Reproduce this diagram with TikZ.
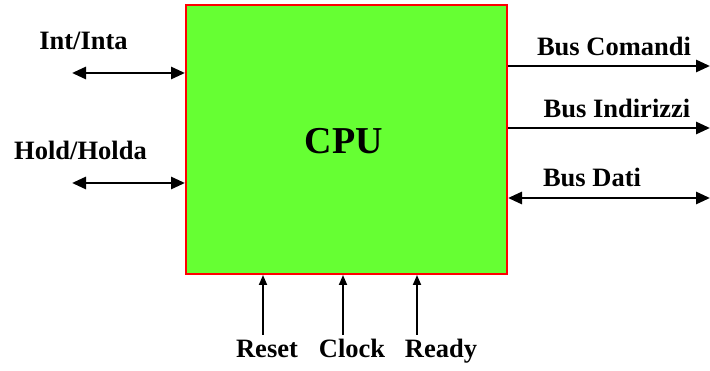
\documentclass[tikz,border=0pt]{standalone}
\usepackage{fontspec}
\setmainfont{Liberation Serif}
\usetikzlibrary{arrows.meta}
\definecolor{cpugreen}{HTML}{66FF33}
\tikzset{
  lbl/.style={font=\fontsize{26.5}{30}\selectfont\bfseries, anchor=base, inner sep=0pt},
  hsig/.style={line width=2.8pt, arrows={-Triangle[length=14pt,width=12pt]}},
  hbi/.style={line width=2.8pt, arrows={Triangle[length=14pt,width=12pt]-Triangle[length=14pt,width=12pt]}},
  vsig/.style={line width=1.8pt, arrows={-Triangle[length=10pt,width=8pt]}},
}
\begin{document}
\begin{tikzpicture}[x=1pt,y=-1pt]
\useasboundingbox (0,0) rectangle (710,371);
\node[draw=red, line width=2pt, fill=cpugreen, minimum width=321pt, minimum height=269pt, inner sep=0pt, anchor=north west] (cpu) at (185,4) {};
\node[font=\fontsize{38}{42}\selectfont\bfseries, anchor=base] (cputxt) at (344,154) {CPU};
% left
\node[lbl] (inta) at (83.5,50) {Int/Inta};
\node[lbl] (holda) at (80.5,160) {Hold/Holda};
\coordinate (a1) at (72,73);
\coordinate (a2) at (72,183);
\draw[hbi] (a1) -- (a1 -| cpu.west);
\draw[hbi] (a2) -- (a2 -| cpu.west);
% right
\node[lbl] (bc) at (614,56) {Bus Comandi};
\node[lbl] (bi) at (617,118) {Bus Indirizzi};
\node[lbl] (bd) at (592,187) {Bus Dati};
\coordinate (r1) at (710,66);
\coordinate (r2) at (710,128);
\coordinate (r3) at (710,198);
\draw[hsig] (r1 -| cpu.east) -- (r1);
\draw[hsig] (r2 -| cpu.east) -- (r2);
\draw[hbi] (r3 -| cpu.east) -- (r3);
% bottom
\node[lbl] (reset) at (267,358) {Reset};
\node[lbl] (clock) at (352,358) {Clock};
\node[lbl] (ready) at (441,358) {Ready};
\coordinate (b1) at (263,335);
\coordinate (b2) at (343,335);
\coordinate (b3) at (417,335);
\draw[vsig] (b1) -- (b1 |- cpu.south);
\draw[vsig] (b2) -- (b2 |- cpu.south);
\draw[vsig] (b3) -- (b3 |- cpu.south);
\end{tikzpicture}
\end{document}
